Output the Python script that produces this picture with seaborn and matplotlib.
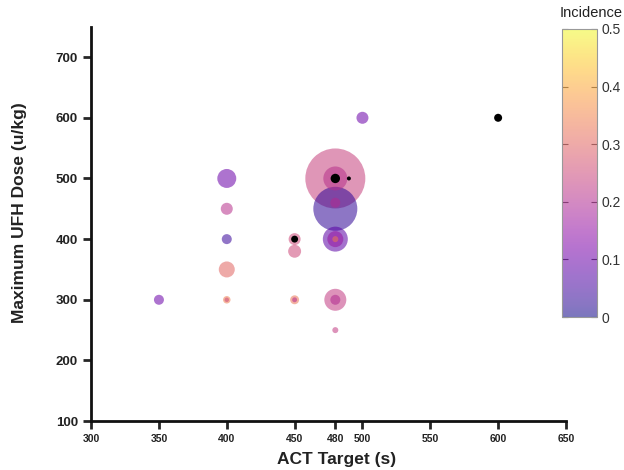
import numpy as np
import pandas as pd
import matplotlib
matplotlib.use("Agg")
import matplotlib.pyplot as plt
import seaborn as sns

# Studies: ACT target (s), max UFH dose (u/kg), incidence, sample size
act = [480, 480, 480, 480, 480, 480, 480, 480, 480, 480,
       400, 400, 400, 400, 400, 400, 350, 450, 450, 450, 450, 500]
dose = [500, 450, 500, 400, 400, 400, 460, 300, 300, 250,
        500, 450, 400, 350, 300, 300, 300, 380, 400, 300, 300, 600]
incidence = [0.24, 0.03, 0.21, 0.08, 0.16, 0.33, 0.2, 0.23, 0.2, 0.23,
             0.1, 0.21, 0.04, 0.3, 0.34, 0.25, 0.1, 0.25, 0.25, 0.33, 0.2, 0.1]
n = [900, 484, 144, 156, 64, 9, 25, 121, 25, 9,
     90, 36, 25, 64, 14, 5, 25, 42, 36, 20, 6, 36]

# Studies without reported incidence (black)
act_na = [450, 480, 490, 600]
dose_na = [400, 500, 500, 600]
n_na = [12, 22, 4, 16]

df = pd.DataFrame({"act": act, "dose": dose, "incidence": incidence, "n": n})
df = df.sort_values("n", ascending=False, kind="stable")
df_na = pd.DataFrame({"act": act_na, "dose": dose_na, "n": n_na})

sns.set_style("ticks")
plt.rcParams["font.family"] = ["Liberation Sans", "DejaVu Sans"]

fig = plt.figure(figsize=(6.24, 4.70), dpi=100)
ax = fig.add_axes([0.146, 0.104, 0.761, 0.839])

smax = 1866
sns.scatterplot(data=df, x="act", y="dose", hue="incidence", size="n",
                palette="plasma", hue_norm=(0, 0.5), sizes=(0, smax),
                size_norm=(0, 900), alpha=0.55, linewidth=0, legend=False, ax=ax)
sns.scatterplot(data=df_na, x="act", y="dose", size="n", color="black",
                sizes=(0, smax), size_norm=(0, 900), linewidth=0, legend=False, ax=ax)

ax.set_xlim(300, 650)
ax.set_ylim(100, 750)
ax.set_xticks([300, 350, 400, 450, 480, 500, 550, 600, 650])
ax.set_yticks([100, 200, 300, 400, 500, 600, 700])
ax.tick_params(axis="x", labelsize=7.5, width=2, length=6, direction="out",
               labelcolor="#222222")
ax.tick_params(axis="y", labelsize=9.5, width=2, length=6, direction="out",
               labelcolor="#222222")
for lab in ax.get_xticklabels() + ax.get_yticklabels():
    lab.set_fontweight("bold")
for s in ["left", "bottom"]:
    ax.spines[s].set_linewidth(2)
    ax.spines[s].set_color("#111111")
sns.despine(ax=ax)
ax.set_xlabel("ACT Target (s)", fontsize=12.5, fontweight="bold", color="#222222")
ax.set_ylabel("Maximum UFH Dose (u/kg)", fontsize=12.5, fontweight="bold", color="#222222")
ax.xaxis.set_label_coords(0.516, -0.078)
ax.yaxis.set_label_coords(-0.135, 0.53)

# Colour bar
cax = fig.add_axes([0.9006, 0.3255, 0.056, 0.613])
sm = plt.cm.ScalarMappable(cmap="plasma", norm=plt.Normalize(0, 0.5))
cb = fig.colorbar(sm, cax=cax)
cb.solids.set_alpha(0.55)
cb.set_ticks([0, 0.1, 0.2, 0.3, 0.4, 0.5])
cb.set_ticklabels(["0", "0.1", "0.2", "0.3", "0.4", "0.5"])
cb.outline.set_edgecolor("#999999")
cb.outline.set_linewidth(0.8)
cax.tick_params(direction="in", length=4, width=0.8, color="#555555",
                left=True, right=True, labelsize=10, labelcolor="#333333")
fig.text(0.948, 0.972, "Incidence", ha="center", va="center", fontsize=10.5, color="#222222")

fig.savefig("out.png", dpi=100)
